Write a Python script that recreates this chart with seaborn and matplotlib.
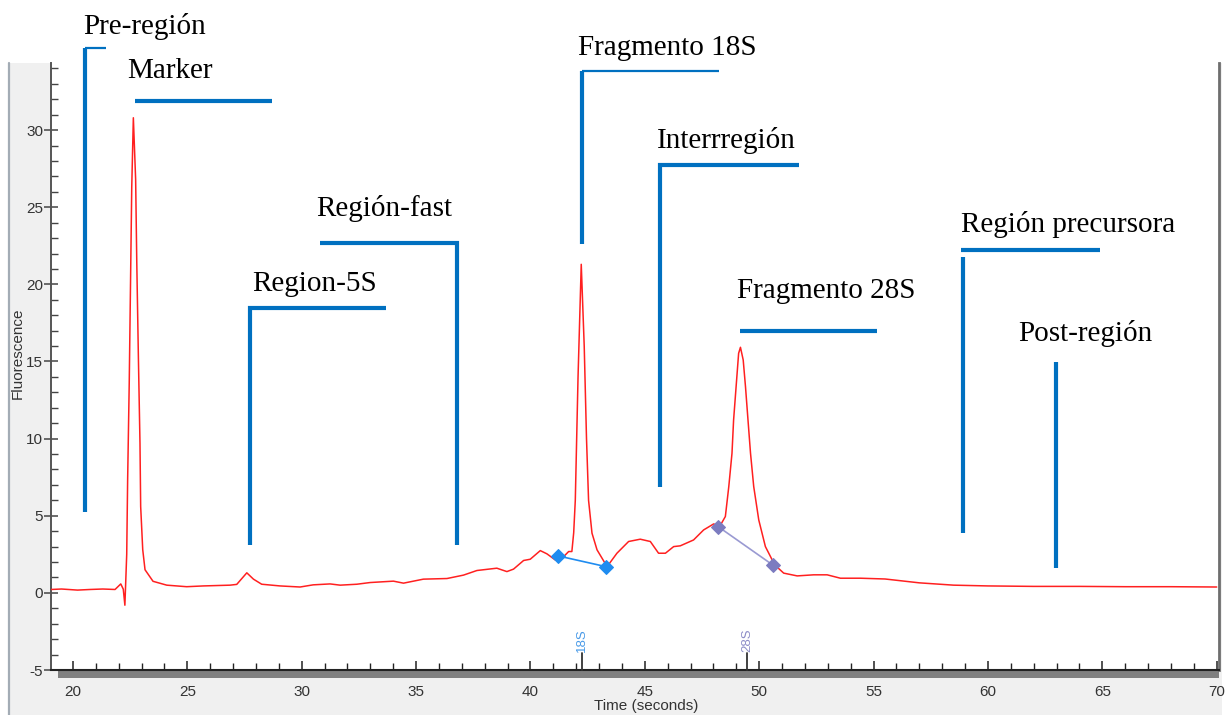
import numpy as np
import pandas as pd
import matplotlib
matplotlib.use("Agg")
import matplotlib.pyplot as plt
import seaborn as sns
from matplotlib.patches import Rectangle
from matplotlib.lines import Line2D
from matplotlib.ticker import MultipleLocator

# ---------------- data ----------------
time_s = [19.05, 19.5, 20.2, 20.75, 21.3, 21.84, 22.09, 22.2, 22.27, 22.35, 22.39, 22.46, 22.52,
          22.57, 22.64, 22.74, 22.79, 22.86, 22.93, 22.96, 23.05, 23.15, 23.5, 24.1, 24.97, 25.7,
          26.87, 27.16, 27.6, 27.89, 28.25, 29.05, 29.93, 30.5, 31.24, 31.68, 32.41, 32.99, 34.01,
          34.45, 35.32, 36.35, 37.07, 37.66, 38.53, 38.97, 39.26, 39.7, 39.99, 40.43, 40.72, 41.08,
          41.26, 41.45, 41.67, 41.81, 41.89, 41.96, 42.08, 42.22, 42.35, 42.45, 42.54, 42.69, 42.91,
          43.35, 43.78, 44.29, 44.8, 45.24, 45.6, 45.9, 46.26, 46.55, 47.13, 47.57, 48.01, 48.27,
          48.52, 48.67, 48.81, 48.88, 48.99, 49.1, 49.18, 49.3, 49.4, 49.51, 49.62, 49.76, 49.98,
          50.27, 50.68, 51.07, 51.66, 52.38, 52.97, 53.55, 54.43, 55.5, 57.0, 58.5, 60.0, 62.0,
          64.0, 66.0, 68.0, 70.0]
fluorescence = [0.22, 0.25, 0.18, 0.22, 0.25, 0.22, 0.58, 0.24, -0.8, 2.5, 7.3, 13.6, 20.5,
                26.3, 30.8, 26.8, 21.4, 15.3, 9.7, 5.6, 2.8, 1.5, 0.75, 0.5, 0.4, 0.45,
                0.5, 0.55, 1.3, 0.89, 0.56, 0.45, 0.38, 0.52, 0.58, 0.5, 0.56, 0.67, 0.76,
                0.63, 0.89, 0.93, 1.15, 1.45, 1.6, 1.38, 1.54, 2.1, 2.18, 2.74, 2.53, 2.14,
                2.31, 2.35, 2.68, 2.68, 3.9, 6.0, 14.0, 21.3, 16.0, 10.0, 6.0, 3.87, 2.79,
                1.7, 2.57, 3.33, 3.48, 3.33, 2.57, 2.57, 3.0, 3.05, 3.43, 4.08, 4.47, 4.3,
                4.95, 6.89, 9.05, 11.2, 13.37, 15.53, 15.92, 15.1, 13.37, 11.2, 9.05, 6.89, 4.73,
                3.0, 1.81, 1.28, 1.1, 1.17, 1.17, 0.95, 0.95, 0.9, 0.65, 0.5, 0.45, 0.42,
                0.42, 0.4, 0.4, 0.38]

baseline_18s_t = [41.2, 43.3]
baseline_18s_f = [2.4, 1.7]
baseline_28s_t = [48.2, 50.6]
baseline_28s_f = [4.3, 1.8]

fragment_names = ["18S", "28S"]
fragment_times = [42.27, 49.47]

x_ticks = [20, 25, 30, 35, 40, 45, 50, 55, 60, 65, 70]
y_ticks = [-5, 0, 5, 10, 15, 20, 25, 30]

region_names = ["Pre-región", "Marker", "Region-5S", "Región-fast", "Fragmento 18S",
                "Interrregión", "Fragmento 28S", "Región precursora", "Post-región"]

# annotation layout (data coordinates): text anchor and bracket polylines
region_text_pos = [(20.44, 36.7), (22.36, 33.8), (27.83, 20.0), (30.63, 24.9), (42.09, 35.3),
                   (45.55, 29.3), (49.05, 19.6), (58.8, 23.9), (61.3, 16.8)]
region_brackets = [
    [[(21.44, 35.3), (20.52, 35.3)], [(20.52, 35.3), (20.52, 5.25)]],
    [[(22.71, 31.9), (28.71, 31.9)]],
    [[(33.69, 18.47), (27.74, 18.47), (27.74, 3.11)]],
    [[(30.8, 22.68), (36.8, 22.68), (36.8, 3.11)]],
    [[(48.26, 33.83), (42.27, 33.83)], [(42.27, 33.83), (42.27, 22.62)]],
    [[(51.76, 27.74), (45.68, 27.74), (45.68, 6.87)]],
    [[(49.18, 16.98), (55.17, 16.98)]],
    [[(58.84, 22.23), (64.88, 22.23)], [(58.93, 21.78), (58.93, 3.89)]],
    [[(62.96, 14.97), (62.96, 1.62)]],
]
bracket_widths = [[1.6, 3.0], [3.0], [3.0], [3.0], [1.6, 3.0], [3.0], [3.0], [3.0, 3.0], [3.0]]

# ---------------- style ----------------
sns.set_style("white")
plt.rcParams["font.family"] = ["Liberation Sans", "DejaVu Sans"]
plt.rcParams["axes.unicode_minus"] = False

W, H = 1226, 715
fig = plt.figure(figsize=(W / 100, H / 100), dpi=100)
fig.patch.set_facecolor("white")

def fx(px):
    return px / W

def fy(py):
    return 1 - py / H

# light grey panel behind axes
fig.patches.append(Rectangle((fx(9), 0), fx(1222) - fx(9), fy(63), transform=fig.transFigure,
                             facecolor="#f0f0f0", edgecolor="none", zorder=-2))
fig.lines.append(Line2D([fx(9), fx(9)], [0, fy(63)], transform=fig.transFigure,
                        color="#a3acb5", lw=1.6, zorder=-1))

ax = fig.add_axes([fx(51), fy(670), fx(1219) - fx(51), fy(63) - fy(670)])
ax.set_zorder(1)
ax.set_facecolor("white")

df = pd.DataFrame({"Time (seconds)": time_s, "Fluorescence": fluorescence})
sns.lineplot(data=df, x="Time (seconds)", y="Fluorescence", ax=ax, color="#ff2020",
             lw=1.1, estimator=None, sort=False, zorder=3)

b18 = pd.DataFrame({"t": baseline_18s_t, "f": baseline_18s_f})
b28 = pd.DataFrame({"t": baseline_28s_t, "f": baseline_28s_f})
sns.lineplot(data=b18, x="t", y="f", ax=ax, color="#1f8cf0", lw=1.2, marker="D",
             markersize=7, markeredgecolor="#1f8cf0", estimator=None, zorder=4)
sns.lineplot(data=b28, x="t", y="f", ax=ax, color="#9a9ad2", lw=1.2, marker="D",
             markersize=7, markerfacecolor="#7c7cc0", markeredgecolor="#7c7cc0",
             estimator=None, zorder=4)

ax.set_xlim(19.04, 70.1)
ax.set_ylim(-5, 34.35)
ax.set_xticks(x_ticks)
ax.set_yticks(y_ticks)
ax.xaxis.set_minor_locator(MultipleLocator(1))
ax.yaxis.set_minor_locator(MultipleLocator(1))
ax.tick_params(axis="x", which="major", direction="in", length=6.5, width=1.1,
               color="#222222", labelsize=11, labelcolor="#333333", pad=11, bottom=True)
ax.tick_params(axis="x", which="minor", direction="in", length=4.8, width=1.0,
               color="#222222", bottom=True)
ax.tick_params(axis="y", which="major", direction="inout", length=9.5, width=1.1,
               color="#444444", labelsize=11, labelcolor="#333333", pad=1, left=True)
ax.tick_params(axis="y", which="minor", direction="in", length=4.8, width=1.0,
               color="#444444", left=True)
ax.set_xlabel("")
ax.set_ylabel("")

ax.spines["top"].set_visible(False)
ax.spines["left"].set_color("#555555")
ax.spines["left"].set_linewidth(1.4)
ax.spines["right"].set_color("#6e6e6e")
ax.spines["right"].set_linewidth(2.0)
ax.spines["bottom"].set_color("#222222")
ax.spines["bottom"].set_linewidth(1.5)

# dark band under x axis
fig.patches.append(Rectangle((fx(58), fy(678)), fx(1219) - fx(58), fy(671) - fy(678),
                             transform=fig.transFigure, facecolor="#808080",
                             edgecolor="none", zorder=-1))

fig.text(fx(646), fy(706), "Time (seconds)", ha="center", va="center", fontsize=11,
         color="#333333")
fig.text(fx(18), fy(353), "Fluorescence", ha="center", va="center", rotation=90,
         fontsize=11, color="#333333")

# fragment markers on x axis
frag_colors = ["#4a9be8", "#8e8ec8"]
for name, t, c in zip(fragment_names, fragment_times, frag_colors):
    ax.plot([t, t], [-5, -3.9], color="#333333", lw=1.3, zorder=5, clip_on=False)
    ax.text(t, -3.85, name, rotation=90, ha="center", va="bottom", fontsize=9.5,
            color=c, zorder=5)

# region annotations
for name, (tx, ty), segs, wds in zip(region_names, region_text_pos, region_brackets,
                                     bracket_widths):
    ax.text(tx, ty, name, ha="left", va="center", fontsize=21,
            family=["Liberation Serif", "DejaVu Serif"], color="black", clip_on=False,
            zorder=6)
    for seg, w in zip(segs, wds):
        xs = [p[0] for p in seg]
        ys = [p[1] for p in seg]
        ax.plot(xs, ys, color="#0070c0", lw=w, solid_capstyle="butt",
                solid_joinstyle="miter", clip_on=False, zorder=6)

fig.savefig("out.png", dpi=100, facecolor="white")
